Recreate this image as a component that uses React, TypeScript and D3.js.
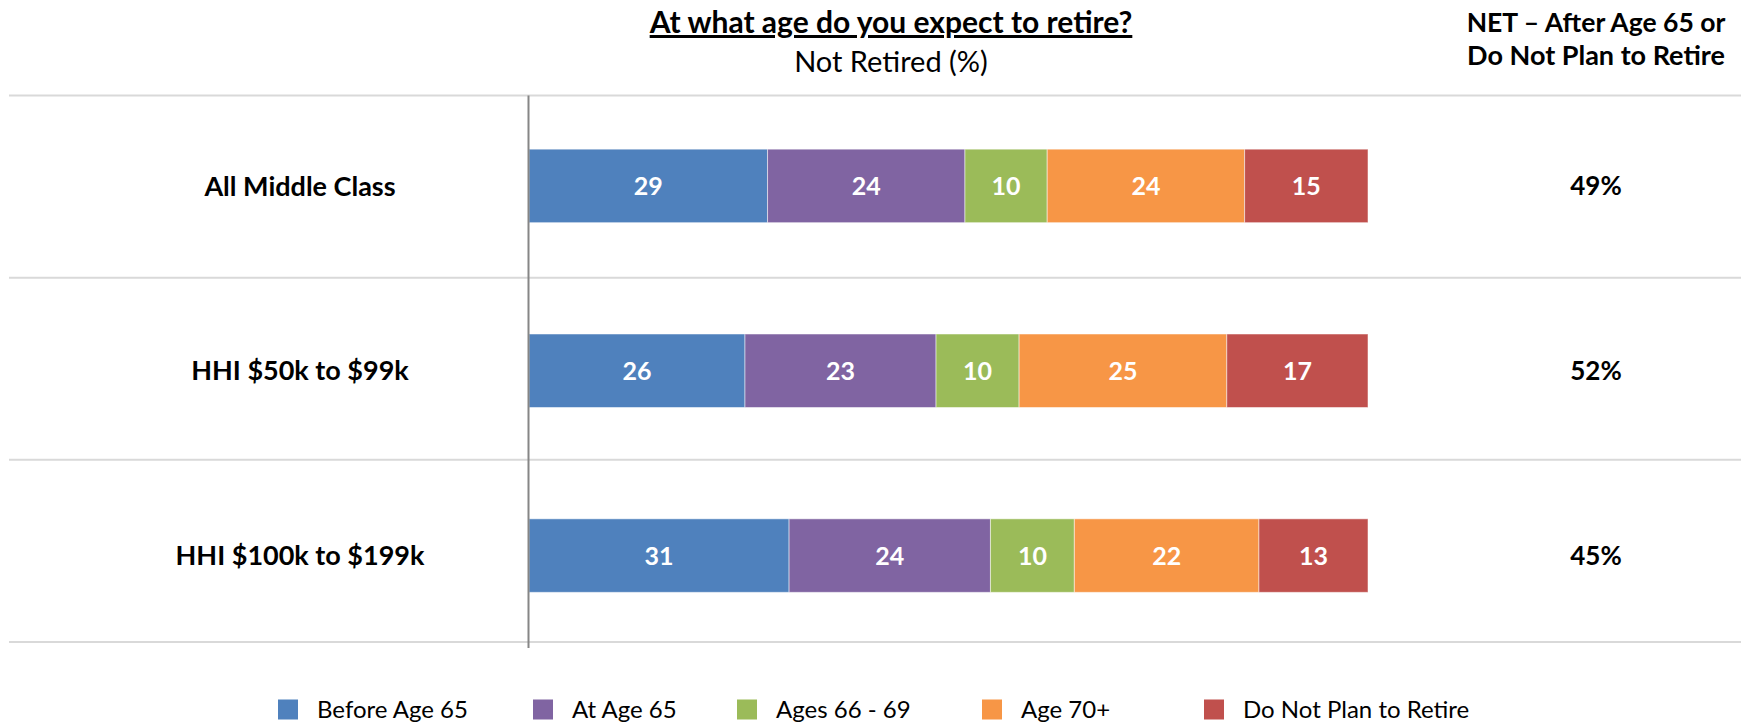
import React from "react";
import * as d3 from "d3";

const categories = ["All Middle Class", "HHI $50k to $99k", "HHI $100k to $199k"];
const seriesNames = ["Before Age 65", "At Age 65", "Ages 66 - 69", "Age 70+", "Do Not Plan to Retire"];
const beforeAge65 = [29, 26, 31];
const atAge65 = [24, 23, 24];
const ages66to69 = [10, 10, 10];
const age70plus = [24, 25, 22];
const doNotPlan = [15, 17, 13];
const netLabels = ["49%", "52%", "45%"];
const colors = ["#4F81BD", "#8064A2", "#9BBB59", "#F79646", "#C0504D"];

const W = 1741;
const H = 723;
const FONT = "Lato, 'Open Sans', sans-serif";

export default function App() {
  const seriesValues = [beforeAge65, atAge65, ages66to69, age70plus, doNotPlan];
  const rows = categories.map((c, i) => {
    const r: Record<string, any> = { cat: c };
    seriesNames.forEach((s, j) => (r[s] = seriesValues[j][i]));
    return r;
  });
  const stack = d3.stack<any>().keys(seriesNames).offset(d3.stackOffsetExpand);
  const stacked = stack(rows);

  const x = d3.scaleLinear().domain([0, 1]).range([529, 1368]);
  // gridline bands
  const yGrid = d3.scaleBand<string>().domain(categories).range([95.5, 642]);
  // bar bands
  const y = d3.scaleBand<string>().domain(categories).range([93.5, 648]);
  const bw = y.bandwidth();
  const barH = 73.5;

  const gridYs = [...categories.map((c) => yGrid(c)!), yGrid(categories[categories.length - 1])! + yGrid.bandwidth()];

  const legendX = [278, 533, 737, 982, 1204];

  return (
    <svg width={W} height={H} style={{ position: "absolute", left: 0, top: 0, background: "#fff" }} fontFamily={FONT}>
      {/* Titles */}
      <text x={891} y={33} textAnchor="middle" fontWeight="bold" fontSize={30} fill="#000" textDecoration="underline">
        At what age do you expect to retire?
      </text>
      <text x={891} y={72} textAnchor="middle" fontSize={29} fill="#000">
        Not Retired (%)
      </text>
      <text x={1596} y={32} textAnchor="middle" fontWeight="bold" fontSize={26.5} fill="#000">
        NET – After Age 65 or
      </text>
      <text x={1596} y={65} textAnchor="middle" fontWeight="bold" fontSize={27} fill="#000">
        Do Not Plan to Retire
      </text>

      {/* Gridlines */}
      {gridYs.map((gy, i) => (
        <line key={i} x1={9} x2={W} y1={gy} y2={gy} stroke="#D9D9D9" strokeWidth={2} />
      ))}

      {/* Bars */}
      {stacked.map((s, si) => (
        <g key={s.key}>
          {s.map((d, di) => {
            const cat = categories[di];
            const yc = y(cat)! + bw / 2;
            const x0 = x(d[0]);
            const x1 = x(d[1]);
            return (
              <g key={cat}>
                <rect x={x0} y={yc - barH / 2} width={x1 - x0} height={barH} fill={colors[si]} stroke="#fff" strokeOpacity={0.5} strokeWidth={1} />
                <text x={(x0 + x1) / 2} y={yc} dy="0.36em" textAnchor="middle" fontWeight="bold" fontSize={25} fill="#fff">
                  {seriesValues[si][di]}
                </text>
              </g>
            );
          })}
        </g>
      ))}

      {/* Axis line */}
      <line x1={528.5} x2={528.5} y1={95.5} y2={648} stroke="#868686" strokeWidth={2} />

      {/* Category labels */}
      {categories.map((c) => (
        <text key={c} x={300} y={y(c)! + bw / 2} dy="0.36em" textAnchor="middle" fontWeight="bold" fontSize={27} fill="#000">
          {c}
        </text>
      ))}

      {/* NET labels */}
      {categories.map((c, i) => (
        <text key={c} x={1596} y={y(c)! + bw / 2} dy="0.36em" textAnchor="middle" fontWeight="bold" fontSize={26} fill="#000">
          {netLabels[i]}
        </text>
      ))}

      {/* Legend */}
      {seriesNames.map((s, i) => (
        <g key={s}>
          <rect x={legendX[i]} y={699.5} width={20} height={20} fill={colors[i]} />
          <text x={legendX[i] + 39} y={718} fontSize={24} fill="#000">
            {s}
          </text>
        </g>
      ))}
    </svg>
  );
}
